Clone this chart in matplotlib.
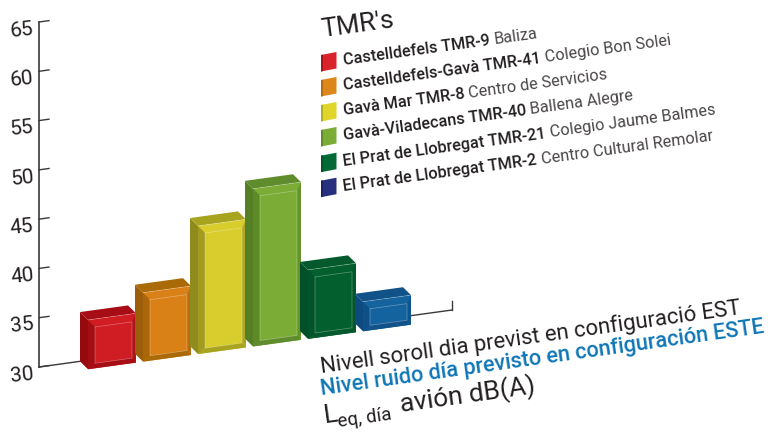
import matplotlib
matplotlib.use("Agg")
import matplotlib.pyplot as plt
import numpy as np
from matplotlib.transforms import ScaledTranslation

W, H = 771, 433
INK = "#231f20"
BLUE_TXT = "#0f76b6"
LINE = "#3a3a3a"

values = [35, 37, 43, 46, 37, 33]
yticks = [30, 35, 40, 45, 50, 55, 60, 65]

legend_bold = ["Castelldefels TMR-9", "Castelldefels-Gavà TMR-41", "Gavà Mar TMR-8",
               "Gavà-Viladecans TMR-40", "El Prat de Llobregat TMR-21", "El Prat de Llobregat TMR-2"]
legend_light = ["Baliza", "Colegio Bon Solei", "Centro de Servicios",
                "Ballena Alegre", "Colegio Jaume Balmes", "Centro Cultural Remolar"]

face = ["#d01c23", "#d98117", "#d8cd2c", "#7aac36", "#03602e", "#14639f"]
side = ["#960a0e", "#9c5e08", "#8f8b1c", "#557f24", "#02502a", "#0c4a7f"]
top = ["#a60d14", "#ab6a08", "#a8a420", "#5f8c2c", "#045a2c", "#115289"]
swatch = ["#d9232a", "#dd8619", "#dfd52b", "#7aac36", "#046a35", "#26307f"]
swatch_side = ["#a8141a", "#b56a10", "#b5ad20", "#5f8c2c", "#03552a", "#1b2462"]

fig = plt.figure(figsize=(W / 100, H / 100), dpi=100)

# chart axes, x is in bar slots, y in dB
left, bottom = 39, 433 - 367
ax = fig.add_axes([left / W, bottom / H, (W - left) / W, 345 / H])
x0 = -41 / 55
ax.set_xlim(x0, (W - 80) / 55)
ax.set_ylim(30, 65)
ax.patch.set_visible(False)
for s in ["top", "right", "bottom"]:
    ax.spines[s].set_visible(False)
ax.spines["left"].set_color(LINE)
ax.spines["left"].set_linewidth(1.2)
ax.set_xticks([])
ax.set_yticks(yticks)
ax.tick_params(axis="y", length=0, pad=4, labelsize=15, labelcolor=INK)
shift = ScaledTranslation(0, -3.5 / 72, fig.dpi_scale_trans)
for lab in ax.get_yticklabels():
    lab.set_family("Roboto")
    lab.set_rotation(6)
    lab.set_rotation_mode("anchor")
    lab.set_transform(lab.get_transform() + shift)

px_x = 1 / 55.0     # slot per pixel
px_y = 35 / 345.0   # dB per pixel
shear = 0.77        # floor slope, dB per slot


def pt(x, dx, v, dy):
    # x slot + pixel offsets, sheared along the floor line
    xx = x + dx * px_x
    return xx, v + shear * (xx - x0) - dy * px_y


def quad(x, v, corners, color, **kw):
    pts = []
    for dx, base, dy in corners:
        # base 1 means corner sits on the floor, else on the bar top
        pts.append(pt(x, dx, 30 if base else v, dy))
    xs, ys = zip(*pts)
    ax.fill(xs, ys, color=color, clip_on=False, **kw)


# slanted ticks
for t in yticks:
    ax.plot([x0, x0 + 10 * px_x], [t, t + shear * 10 * px_x], color=LINE, lw=1, clip_on=False)

# floor line with its end tick
end = x0 + (452 - 39) * px_x
fy = 30 + shear * (end - x0)
ax.plot([x0, end], [30, fy], color=LINE, lw=1, clip_on=False, zorder=1)
ax.plot([end, end], [fy, fy + 0.9], color=LINE, lw=1, clip_on=False, zorder=1)

w, d = 48, 8   # front width, side depth
for i, v in enumerate(values):
    # side and top of box
    quad(i, v, [(0, 0, 0), (d, 0, 9), (d, 1, 9), (0, 1, 0)], side[i], lw=0, zorder=3)
    quad(i, v, [(0, 0, 0), (w, 0, 0), (w + d, 0, 9), (d, 0, 9)], top[i], lw=0, zorder=3)
    # front, with its bevel bands
    quad(i, v, [(d, 0, 9), (w + d, 0, 9), (w + d, 1, 9), (d, 1, 9)], face[i], lw=0, zorder=3)
    quad(i, v, [(d, 0, 9), (d + 7, 0, 17), (d + 7, 1, 4), (d, 1, 9)], side[i], lw=0, alpha=0.75, zorder=3)
    quad(i, v, [(d + 7, 1, 4), (w + d - 4, 1, 4), (w + d, 1, 9), (d, 1, 9)], top[i], lw=0, zorder=3)
    quad(i, v, [(w + d - 4, 0, 17), (w + d, 0, 9), (w + d, 1, 9), (w + d - 4, 1, 4)], side[i], lw=0,
         alpha=0.55, zorder=3)
    xs, ys = zip(*[pt(i, d + 7, v, 17), pt(i, w + d - 4, v, 17), pt(i, w + d - 4, 30, 4),
                   pt(i, d + 7, 30, 4), pt(i, d + 7, v, 17)])
    ax.plot(xs, ys, color="white", lw=0.5, alpha=0.35, clip_on=False, zorder=3)
    xs, ys = zip(*[pt(i, d, v, 9), pt(i, w + d, v, 9)])
    ax.plot(xs, ys, color="white", lw=0.5, alpha=0.3, clip_on=False, zorder=3)

# overlay in pixels for the slanted texts and swatches
ov = fig.add_axes([0, 0, 1, 1])
ov.set_xlim(0, W)
ov.set_ylim(H, 0)
ov.axis("off")
ANGLE = 7.8
renderer = fig.canvas.get_renderer()


def chain(x, y, parts, angle=ANGLE):
    # writes (string, size, weight, colour) pieces one after the other on a slanted baseline
    a = np.deg2rad(angle)
    for s, size, weight, color in parts:
        t = ov.text(x, y, s, fontsize=size, fontweight=weight, color=color, family="Roboto",
                    ha="left", va="baseline", rotation=0, rotation_mode="anchor")
        width = t.get_window_extent(renderer).width
        t.set_rotation(angle)
        x += width * np.cos(a)
        y -= width * np.sin(a)


chain(322.7, 36.7, [("TMR's", 19, "normal", INK)])

row_y = [65, 90, 115, 140, 165.7, 190.7]
for name, where, y, col, col2 in zip(legend_bold, legend_light, row_y, swatch, swatch_side):
    chain(344, y, [(name + " ", 11.7, "medium", INK), (where, 11.7, "normal", "#4a4647")])
    sy = y - 10
    ov.fill([321, 336.5, 336.5, 321], [sy, sy - 3, sy + 13.5, sy + 16.5], color=col, lw=0)
    ov.fill([321, 323, 323, 321], [sy, sy - 0.4, sy + 16.1, sy + 16.5], color=col2, lw=0)

chain(321.7, 373.3, [("Nivell soroll dia previst en configuració EST", 15.9, "normal", INK)], 8)
chain(321.7, 395, [("Nivel ruido día previsto en configuración ESTE", 15.7, "medium", BLUE_TXT)], 8)
chain(325, 423, [("L", 19, "normal", INK)], 8)
chain(338, 426.7, [("eq, día", 13.5, "normal", INK)], 8)
chain(400.7, 411.7, [("avión dB(A)", 19, "normal", INK)], 8)

fig.savefig("out.png", dpi=100)
